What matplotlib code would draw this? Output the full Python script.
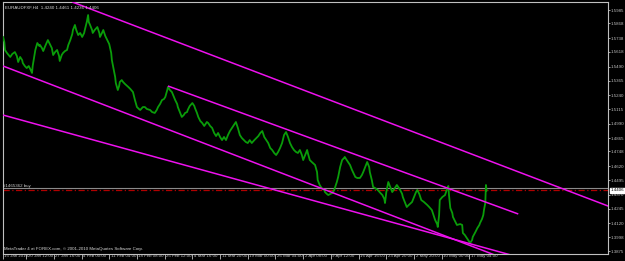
import matplotlib
matplotlib.use('Agg')
import matplotlib.pyplot as plt
import matplotlib.transforms as mtransforms
from matplotlib import font_manager

# ---------------- data ----------------
bars = [0, 2, 3, 6, 11, 14, 18, 21, 23, 26, 29, 30, 33, 36, 39, 42, 44, 45, 47, 49,
        52, 55, 56, 59, 61, 64, 68, 71, 74, 76, 79, 82, 85, 86, 89, 91, 94, 97, 99, 102,
        105, 106, 109, 111, 114, 117, 120, 123, 124, 127, 129, 130, 132, 135, 136, 139, 143, 146, 147, 150,
        152, 155, 158, 161, 162, 164, 165, 168, 170, 171, 174, 176, 177, 180, 182, 185, 190, 193, 197, 200,
        203, 206, 208, 212, 215, 218, 223, 226, 230, 233, 235, 238, 241, 244, 246, 249, 250, 253, 256, 259,
        261, 264, 265, 268, 271, 274, 276, 279, 280, 283, 287, 290, 291, 294, 296, 299, 302, 305, 306, 309,
        311, 314, 317,
        320, 323, 326, 329, 332, 335, 338, 341, 344, 347, 350, 353, 356, 359, 362, 365, 368, 371, 374, 377,
        381, 384, 387, 390, 393, 396, 399, 402, 405, 408, 411, 414, 417, 420, 423, 426, 429, 432, 435, 438,
        441, 444, 447, 450,
        453, 455, 458, 461, 462, 465, 468, 473, 476, 477, 480, 483, 487, 488, 491, 493, 496, 499, 502, 503,
        506, 508, 511, 514, 517, 518, 521, 526, 529, 534, 537, 541, 544, 546, 549, 552, 555, 556, 559, 561,
        564, 568, 572, 575, 578, 579, 581, 584, 587, 590, 593, 597, 600, 602, 605, 606, 609, 612, 615, 620,
        623, 626, 628, 631, 634, 638, 643, 646, 650, 653, 655, 658, 659, 661, 662, 666, 670, 673, 675, 676,
        678, 681, 682, 685, 688, 693, 696, 697, 700, 703, 706, 708, 711, 712, 716, 719, 722, 723, 726, 728,
        729, 731, 732, 733]

prices = [1.5749, 1.5705, 1.5635, 1.5609, 1.5574, 1.5600, 1.5617, 1.5582, 1.5530, 1.5574, 1.5547, 1.5521, 1.5495, 1.5477, 1.5495, 1.5460, 1.5434, 1.5495, 1.5565, 1.5635,
          1.5696, 1.5670, 1.5679, 1.5652, 1.5626, 1.5670, 1.5722, 1.5687, 1.5652, 1.5591, 1.5617, 1.5635, 1.5582, 1.5539, 1.5591, 1.5609, 1.5626, 1.5635, 1.5679, 1.5722,
          1.5775, 1.5810, 1.5854, 1.5810, 1.5766, 1.5784, 1.5749, 1.5784, 1.5810, 1.5880, 1.5941, 1.5880, 1.5854, 1.5810, 1.5784, 1.5810, 1.5836, 1.5784, 1.5749, 1.5784,
          1.5810, 1.5758, 1.5722, 1.5687, 1.5661, 1.5609, 1.5547, 1.5460, 1.5399, 1.5346, 1.5285, 1.5320, 1.5355, 1.5372, 1.5355, 1.5337, 1.5311, 1.5294, 1.5267, 1.5197,
          1.5136, 1.5119, 1.5110, 1.5136, 1.5136, 1.5119, 1.5110, 1.5092, 1.5084, 1.5110, 1.5136, 1.5162, 1.5197, 1.5206, 1.5224, 1.5285, 1.5311, 1.5285, 1.5267, 1.5224,
          1.5197, 1.5162, 1.5136, 1.5092, 1.5049, 1.5066, 1.5084, 1.5092, 1.5110, 1.5145, 1.5171, 1.5145, 1.5127, 1.5084, 1.5049, 1.5014, 1.4996, 1.4970, 1.4979, 1.5005,
          1.4996, 1.4970, 1.4953,
          1.4909, 1.4882, 1.4909, 1.4874, 1.4847, 1.4874, 1.4847, 1.4891, 1.4926, 1.4953, 1.4979, 1.5005, 1.4953, 1.4891, 1.4865, 1.4847, 1.4830, 1.4821, 1.4847, 1.4821,
          1.4847, 1.4865, 1.4882, 1.4909, 1.4926, 1.4874, 1.4847, 1.4821, 1.4778, 1.4760, 1.4734, 1.4716, 1.4743, 1.4778, 1.4821, 1.4891, 1.4917, 1.4874, 1.4821, 1.4786,
          1.4760, 1.4743, 1.4734, 1.4760,
          1.4716, 1.4672, 1.4716, 1.4760, 1.4734, 1.4672, 1.4655, 1.4629, 1.4567, 1.4497, 1.4454, 1.4427, 1.4410, 1.4392, 1.4375, 1.4366, 1.4375, 1.4384, 1.4410, 1.4427,
          1.4480, 1.4524, 1.4611, 1.4672, 1.4690, 1.4699, 1.4672, 1.4629, 1.4585, 1.4524, 1.4515, 1.4515, 1.4541, 1.4567, 1.4611, 1.4655, 1.4611, 1.4567, 1.4497, 1.4436,
          1.4427, 1.4410, 1.4384, 1.4366, 1.4331, 1.4296, 1.4392, 1.4480, 1.4436, 1.4392, 1.4419, 1.4454, 1.4427, 1.4410, 1.4375, 1.4349, 1.4305, 1.4261, 1.4279, 1.4305,
          1.4349, 1.4392, 1.4410, 1.4375, 1.4322, 1.4305, 1.4279, 1.4261, 1.4235, 1.4182, 1.4147, 1.4112, 1.4086, 1.4191, 1.4322, 1.4349, 1.4366, 1.4419, 1.4445, 1.4366,
          1.4252, 1.4209, 1.4174, 1.4139, 1.4104, 1.4112, 1.4104, 1.4034, 1.4016, 1.3990, 1.3964, 1.3946, 1.3972, 1.3999, 1.4042, 1.4077, 1.4104, 1.4121, 1.4156, 1.4191,
          1.4235, 1.4296, 1.4454, 1.4406]

ytick_values = [1.5985, 1.5868, 1.5738, 1.5618, 1.5490, 1.5365, 1.5240, 1.5115, 1.4990,
                1.4865, 1.4748, 1.4620, 1.4495, 1.4370, 1.4245, 1.4120, 1.3998, 1.3875]
ytick_labels = ["%.4f" % v for v in ytick_values]

xtick_bars = [0, 35, 77, 119, 161, 203, 245, 287, 329, 371, 413, 455, 497, 539, 581, 623, 665, 707]
xtick_labels = ["15 Jan 2010", "20 Jan 12:00", "27 Jan 16:00", "4 Feb 00:00", "11 Feb 04:00",
                "18 Feb 08:00", "25 Feb 12:00", "4 Mar 16:00", "11 Mar 20:00", "19 Mar 00:00",
                "26 Mar 04:00", "2 Apr 08:00", "9 Apr 12:00", "16 Apr 16:00", "23 Apr 20:00",
                "2 May 20:00", "10 May 00:00", "17 May 04:00"]

# trend lines: two anchor points each (bar, price); ray = extend to the right
upper_ray = [(105, 1.6055), (917, 1.4270)]
mid_line = [(250, 1.5320), (781, 1.4200)]
lower_ray = [(0, 1.5495), (731, 1.3873)]
lowest_ray = [(0, 1.5066), (753, 1.3868)]

bid_price = 1.4406
order_price = 1.4425
order_label = "#1465362 buy"
title_text = "EURAUDFXF,H4  1.4240 1.4461 1.4236 1.4406"
footer_text = "MetaTrader 4 at FOREX.com, \u00a9 2001-2010 MetaQuotes Software Corp."

x_range = (0, 917)
y_range = (1.3850, 1.6055)

# ---------------- style ----------------
BG = '#000000'
FG = '#c0c0c0'
GREEN = '#0a9c0a'
MAGENTA = '#ee11ee'
FS = 3.2

installed = {f.name for f in font_manager.fontManager.ttflist}
fams = [f for f in ['Liberation Sans Narrow', 'DejaVu Sans Condensed', 'Liberation Sans', 'DejaVu Sans']
        if f in installed]
plt.rcParams['font.family'] = fams

fig = plt.figure(figsize=(6.25, 2.61), dpi=100, facecolor=BG)
ax = fig.add_axes([3 / 625, 7 / 261, 605 / 625, 252 / 261], facecolor=BG)
ax.set_xlim(*x_range)
ax.set_ylim(*y_range)

for s in ax.spines.values():
    s.set_color(FG)
    s.set_linewidth(0.8)

# order line and bid line
ax.axhline(order_price, color='#8a8a8a', lw=0.8, zorder=1)
ax.axhline(bid_price, color='#b00000', lw=0.9, dashes=(5, 2, 1, 2), zorder=1)
ax.text(0.5, order_price, order_label, color='#d0d0d0', fontsize=FS, va='bottom', ha='left',
        zorder=3)

# price line
ax.plot(bars, prices, color=GREEN, lw=1.3, zorder=4)


def draw_line(pts, ray):
    (x1, y1), (x2, y2) = pts
    if ray:
        slope = (y2 - y1) / (x2 - x1)
        x2e = x_range[1] + 50
        y2 = y1 + slope * (x2e - x1)
        x2 = x2e
    ax.plot([x1, x2], [y1, y2], color=MAGENTA, lw=1.1, zorder=5, solid_capstyle='butt')


draw_line(upper_ray, True)
draw_line(mid_line, False)
draw_line(lower_ray, True)
draw_line(lowest_ray, True)

# y axis on right
ax.yaxis.tick_right()
ax.set_yticks(ytick_values)
ax.set_yticklabels(ytick_labels)
ax.tick_params(axis='y', colors=FG, labelcolor=FG, labelsize=FS, length=1.5, width=0.6, pad=0.6,
               direction='out')

# x axis
ax.set_xticks(xtick_bars)
ax.set_xticklabels(xtick_labels)
ax.tick_params(axis='x', colors=FG, labelcolor=FG, labelsize=FS, length=3.5, width=0.6, pad=-3.3,
               direction='out')
offset = mtransforms.ScaledTranslation(1.5 / 100, 0, fig.dpi_scale_trans)
for lab in ax.get_xticklabels():
    lab.set_ha('left')
    lab.set_transform(lab.get_transform() + offset)

# price box
ax.text(1.005, bid_price, "%.4f" % bid_price, transform=ax.get_yaxis_transform(),
        fontsize=FS, color='black', ha='left', va='center',
        bbox=dict(boxstyle='square,pad=0.15', fc='white', ec='white'), zorder=10, clip_on=False)

# title and footer
ax.text(0.003, 0.985, title_text, transform=ax.transAxes, fontsize=FS, color='#d8d8d8',
        ha='left', va='top', zorder=6)
ax.text(0.001, 0.012, footer_text, transform=ax.transAxes, fontsize=FS, color='#d8d8d8',
        ha='left', va='bottom', zorder=6)

fig.savefig('out.png', dpi=100, facecolor=BG)
